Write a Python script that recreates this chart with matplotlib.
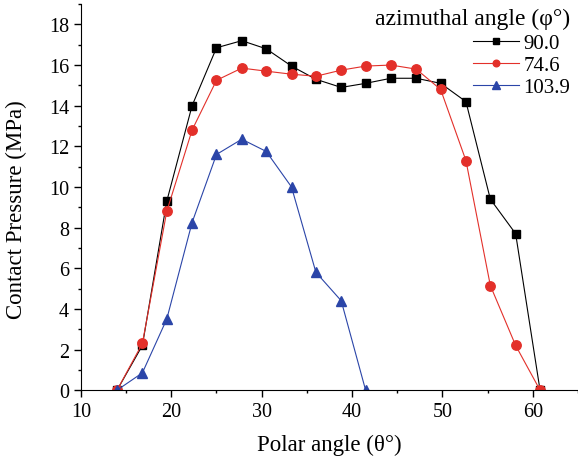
import matplotlib
matplotlib.use('Agg')
import matplotlib.pyplot as plt
from matplotlib.ticker import MultipleLocator

plt.rcParams['font.family'] = ['Liberation Serif', 'DejaVu Serif']

theta = [14.0, 16.8, 19.5, 22.3, 25.0, 27.8, 30.5, 33.3, 36.0,
         38.8, 41.5, 44.3, 47.1, 49.8, 52.6, 55.3, 58.1, 60.8]
p_90 = [0.0, 2.2, 9.3, 14.0, 16.85, 17.2, 16.8, 15.95, 15.3,
        14.9, 15.1, 15.35, 15.35, 15.1, 14.2, 9.4, 7.7, 0.0]
p_746 = [0.0, 2.3, 8.8, 12.8, 15.25, 15.85, 15.7, 15.55, 15.45,
         15.75, 15.95, 16.0, 15.8, 14.8, 11.3, 5.15, 2.2, 0.0]
p_1039 = [0.0, 0.85, 3.5, 8.25, 11.6, 12.35, 11.75, 10.0, 5.8, 4.4, 0.0]

fig = plt.figure(figsize=(5.78, 4.64), dpi=100)
ax = fig.add_axes([0.140, 0.157, 0.860, 0.832])

ax.plot(theta, p_90, color='black', marker='s', ms=5.8, lw=0.8, label='90.0')
ax.plot(theta, p_746, color='#e3302a', marker='o', ms=6.8, lw=0.8, label='74.6')
ax.plot(theta[:len(p_1039)], p_1039, color='#2b45a8', marker='^', ms=7.5, lw=0.8, label='103.9')

ax.set_xlim(10, 65)
ax.set_ylim(0, 19)
ax.xaxis.set_major_locator(MultipleLocator(10))
ax.xaxis.set_minor_locator(MultipleLocator(5))
ax.yaxis.set_major_locator(MultipleLocator(2))
ax.yaxis.set_minor_locator(MultipleLocator(1))
ax.tick_params(which='both', direction='out', labelsize=14.5, width=1)
ax.tick_params(which='major', length=5)
ax.tick_params(which='minor', length=2.5)
ax.spines['top'].set_visible(False)
ax.spines['right'].set_visible(False)

ax.set_xlabel('Polar angle (θ°)', fontsize=16.5, labelpad=9)
ax.set_ylabel('Contact Pressure (MPa)', fontsize=16.5)
ax.yaxis.set_label_coords(-0.108, 0.47)

leg = ax.legend(title='azimuthal angle (φ°)', loc='upper right', frameon=False,
                fontsize=15, title_fontsize=17, markerscale=0.7, handlelength=2.2,
                borderaxespad=0.1, labelspacing=0.12, handletextpad=0.2,
                borderpad=0.1, bbox_to_anchor=(0.993, 1.0))
leg._legend_box.align = 'right'
leg._legend_box.sep = 3

fig.savefig('out.png', dpi=100)
